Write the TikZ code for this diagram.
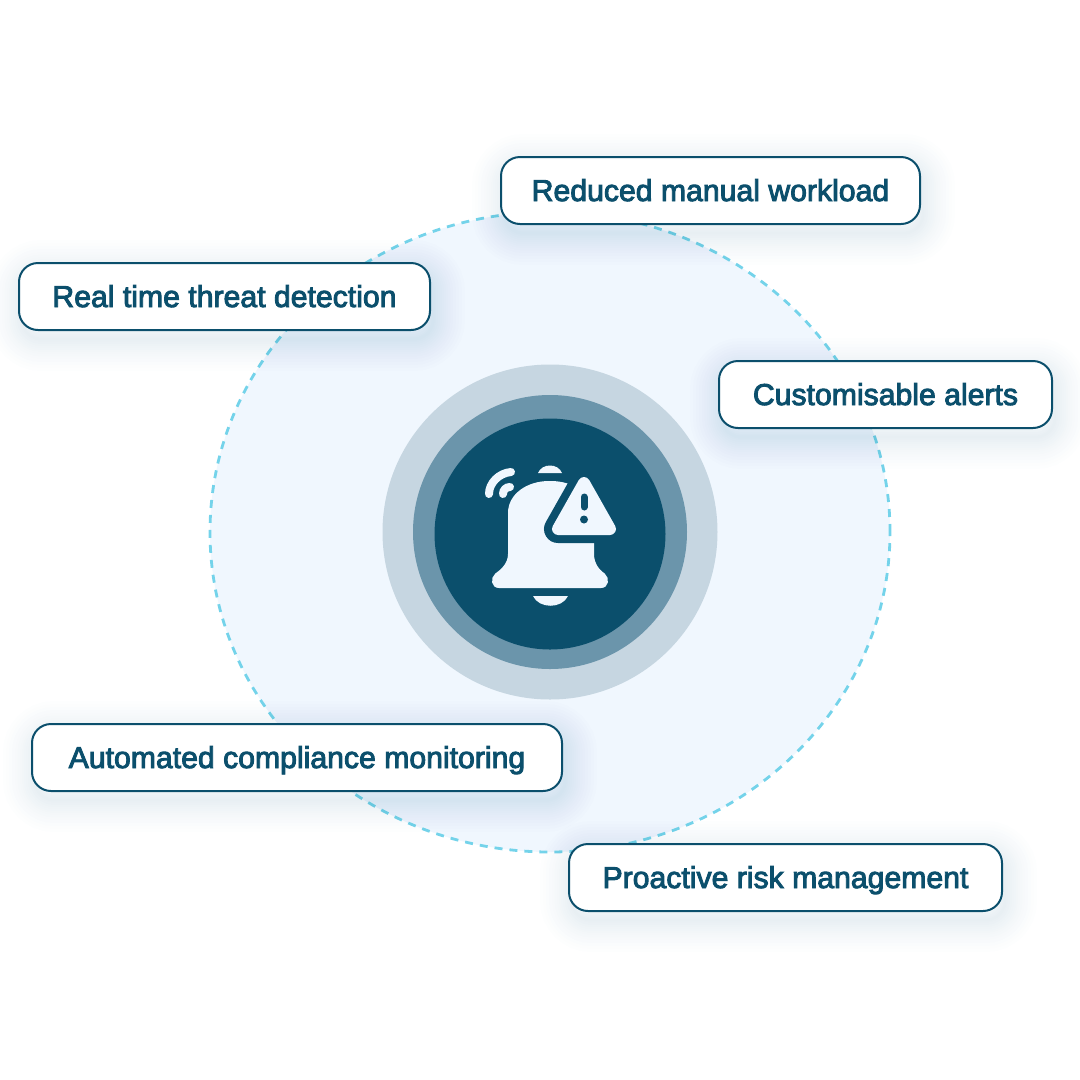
\documentclass[tikz,border=0pt]{standalone}
\usepackage{fontspec}
\setmainfont{Liberation Sans}
\newfontfamily\tagfont[FakeBold=3]{Liberation Sans}
\usetikzlibrary{positioning, shapes.geometric}
\definecolor{deepteal}{HTML}{0B4F6C}
\definecolor{ringmid}{HTML}{6B95AB}
\definecolor{ringpale}{HTML}{C6D6E1}
\definecolor{discblue}{HTML}{F0F7FE}
\definecolor{dashblue}{HTML}{74D3EA}
\definecolor{glowblue}{HTML}{2F6F96}

\begin{document}
\begin{tikzpicture}[x=1pt, y=-1pt,
    glowline/.style={preaction={draw=glowblue, fill=none, draw opacity=.007,
      line width=#1, transform canvas={xshift=3pt, yshift=-9pt}}},
    softglow/.style={glowline=64pt, glowline=58pt, glowline=52pt, glowline=46pt,
      glowline=40pt, glowline=35pt, glowline=30pt, glowline=26pt, glowline=22pt,
      glowline=18pt, glowline=14pt, glowline=10pt, glowline=6pt, glowline=3pt},
    tag/.style={draw=deepteal, fill=white, line width=2pt, rounded corners=19pt,
      text=deepteal, font=\tagfont\fontsize{30.2}{32}\selectfont, inner sep=0pt,
      minimum height=67pt, text height=21pt, text depth=0pt, softglow},
    ring/.style={circle, inner sep=0pt, minimum size=#1},
    iconline/.style={draw=discblue, line width=8pt, line cap=round}]

  \useasboundingbox (0,0) rectangle (1080,1080);

  % large disc and the three rings
  \node[ellipse, minimum width=680pt, minimum height=640pt, inner sep=0pt, fill=discblue,
      draw=dashblue, line width=2.8pt, dash pattern=on 8pt off 7pt]
    (disc) at (550,532) {};
  \node[ring=335pt, fill=ringpale] (ringa) at (disc.center) {};
  \node[ring=274pt, fill=ringmid]  (ringb) at (disc.center) {};
  \node[ring=231pt, fill=deepteal] (ringc) at (550,534) {};

  % bell
  \fill[discblue, rounded corners=1pt] (508,553) -- (508,514)
    .. controls (508,494) and (527,481) .. (550,481)
    .. controls (573,481) and (594,494) .. (594,514)
    -- (594,553) .. controls (594,564) and (600,570) .. (604,573)
    .. controls (610,578) and (609,588) .. (600,588)
    -- (500,588) .. controls (491,588) and (490,578) .. (496,573)
    .. controls (500,570) and (508,564) .. (508,553) -- cycle;

  % warning triangle, cut out of the bell
  \draw[deepteal, fill=deepteal, line width=28pt, line join=round]
    (584,483) -- (610,529) -- (558,529) -- cycle;
  \draw[discblue, fill=discblue, line width=12pt, line join=round]
    (584,483) -- (610,529) -- (558,529) -- cycle;
  \draw[deepteal, line width=7pt, line cap=round] (584,497) -- (584,507);
  \fill[deepteal] (584,519.5) circle[radius=4pt];

  % cap and clapper
  \fill[discblue] (538,473) .. controls (542,463) and (558,463) .. (562,473) -- cycle;
  \fill[discblue] (533,596) -- (568,596) .. controls (562,609) and (539,609) .. (533,596) -- cycle;

  % signal arcs
  \draw[iconline] (489,494) .. controls (489,483) and (499,473) .. (511,472);
  \draw[iconline] (503,494) .. controls (503,490) and (506,487) .. (510,487);

  % labels
  \node[tag, minimum width=419pt] (workload)   at (710.5,190.5) {Reduced manual workload};
  \node[tag, minimum width=411pt] (detection)  at (224.5,296.5) {Real time threat detection};
  \node[tag, minimum width=333pt] (alerts)     at (885.5,394.5) {Customisable alerts};
  \node[tag, minimum width=530pt] (compliance) at (297,757.5)   {Automated compliance monitoring};
  \node[tag, minimum width=433pt] (risk)       at (785.5,877.5) {Proactive risk management};

\end{tikzpicture}
\end{document}
